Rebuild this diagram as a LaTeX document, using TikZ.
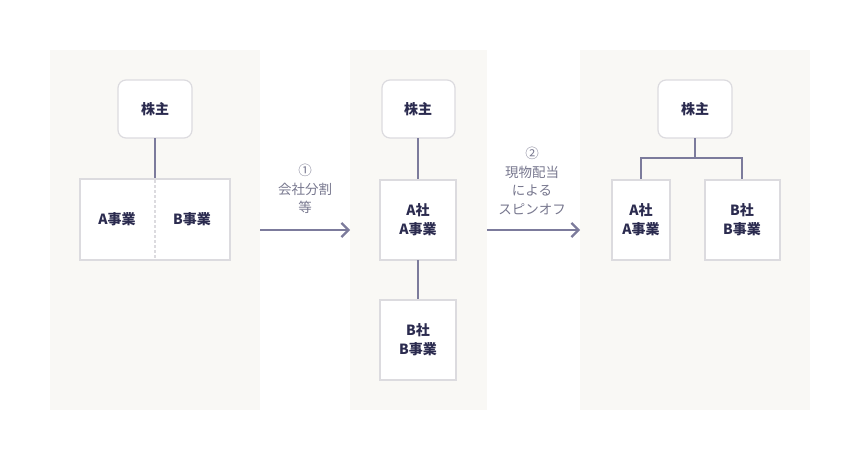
\documentclass[tikz,border=0pt]{standalone}
\usepackage{fontspec}
\usetikzlibrary{arrows.meta}
\setmainfont{Noto Sans CJK JP}
\definecolor{panelbg}{HTML}{F9F8F5}
\definecolor{boxline}{HTML}{DCDBDF}
\definecolor{linkline}{HTML}{7C7B9C}
\definecolor{inktext}{HTML}{2B2B4F}
\definecolor{captext}{HTML}{77778E}
\begin{document}
\begin{tikzpicture}[x=1pt,y=-1pt,
  panel/.style={fill=panelbg},
  holder/.style={draw=boxline,line width=1.2pt,fill=white,rounded corners=8pt},
  unit/.style={draw=boxline,line width=2.2pt,fill=white},
  link/.style={draw=linkline,line width=2.2pt},
  label/.style={text=inktext,font=\bfseries\fontsize{14}{19}\selectfont,align=center},
  steptext/.style={text=captext,font=\fontsize{13.5}{18.5}\selectfont,align=center}]
\useasboundingbox (0,0) rectangle (860,460);

% Panels:
\fill[panel] (50,50) rectangle (260,410);
\fill[panel] (350,50) rectangle (487,410);
\fill[panel] (580,50) rectangle (810,410);

% Before:
\draw[holder] (118,80) rectangle (192,138);
\node[label] (holderA) at (155,109) {株主};
\draw[link] (155,138) -- (155,179);
\draw[unit] (80,179) rectangle (230,260);
\draw[boxline,line width=1.5pt,densely dashed] (155,180) -- (155,259);
\node[label] (bizA) at (117,219) {A事業};
\node[label] (bizB) at (192,219) {B事業};

% Step 1:
\coordinate (s1) at (260,230);
\coordinate (e1) at (350,230);
\draw[link,-{Straight Barb[length=7pt,width=14pt]}] (s1) -- (e1);
\node[steptext] (cap1) at (305,189) {①\\会社分割\\等};

% Middle:
\draw[holder] (382,80) rectangle (455,138);
\node[label] (holderB) at (418,109) {株主};
\draw[link] (418,138) -- (418,180);
\draw[unit] (380,180) rectangle (456,260);
\node[label] (coA) at (418,220) {A社\\A事業};
\draw[link] (418,260) -- (418,300);
\draw[unit] (380,300) rectangle (456,380);
\node[label] (coB) at (418,340) {B社\\B事業};

% Step 2:
\coordinate (s2) at (487,230);
\coordinate (e2) at (580,230);
\draw[link,-{Straight Barb[length=7pt,width=14pt]}] (s2) -- (e2);
\node[steptext] (cap2) at (532,181) {②\\現物配当\\による\\スピンオフ};

% After:
\draw[holder] (658,80) rectangle (732,138);
\node[label] (holderC) at (695,109) {株主};
\draw[link] (695,138) -- (695,158) (641,180) -- (641,158) -- (742,158) -- (742,180);
\draw[unit] (612,180) rectangle (670,260);
\node[label] (coC) at (641,220) {A社\\A事業};
\draw[unit] (705,180) rectangle (780,260);
\node[label] (coD) at (742,220) {B社\\B事業};

\end{tikzpicture}
\end{document}
